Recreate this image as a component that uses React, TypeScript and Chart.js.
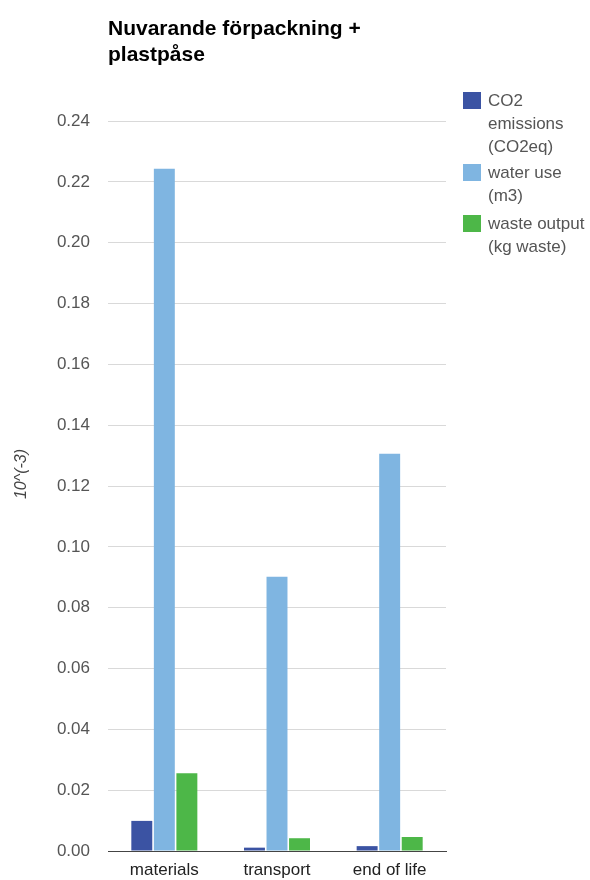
import React, { useEffect, useRef } from "react";
import { Chart, registerables } from "chart.js";

Chart.register(...registerables);

const titleLines = ["Nuvarande förpackning +", "plastpåse"];
const categories = ["materials", "transport", "end of life"];
const co2Values = [0.0099, 0.0011, 0.0016];
const waterValues = [0.2243, 0.0902, 0.1306];
const wasteValues = [0.0256, 0.0042, 0.0046];
const seriesNames = [["CO2", "emissions", "(CO2eq)"], ["water use", "(m3)"], ["waste output", "(kg waste)"]];
const seriesColors = ["#3b53a3", "#7fb5e1", "#4db748"];
const yTicks = [0, 0.02, 0.04, 0.06, 0.08, 0.1, 0.12, 0.14, 0.16, 0.18, 0.2, 0.22, 0.24];
const yAxisTitle = "10^(-3)";

const FONT = "Arial, 'Liberation Sans', sans-serif";

export default function App() {
  const ref = useRef<HTMLCanvasElement | null>(null);
  useEffect(() => {
    if (!ref.current) return;
    const values = [co2Values, waterValues, wasteValues];
    const chart = new Chart(ref.current, {
      type: "bar",
      data: {
        labels: categories,
        datasets: values.map((v, i) => ({
          label: seriesNames[i].join(" "),
          data: v,
          backgroundColor: seriesColors[i],
          borderWidth: 0,
          categoryPercentage: 0.6,
          barPercentage: 0.93,
        })),
      },
      options: {
        responsive: false,
        animation: false,
        layout: { padding: { left: 0, right: 144, top: 121, bottom: 0 } },
        plugins: {
          legend: { display: false },
          title: { display: false },
          tooltip: { enabled: false },
        },
        scales: {
          x: {
            grid: { display: false, drawTicks: false },
            border: { display: true, color: "#444", width: 1 },
            ticks: { color: "#222", font: { family: FONT, size: 17 }, padding: 9 },
            afterFit: (s: any) => { s.height = 29; },
          },
          y: {
            min: 0,
            max: 0.24,
            afterBuildTicks: (s: any) => { s.ticks = yTicks.map((v) => ({ value: v })); },
            grid: { color: "#d9d9d9", drawTicks: false },
            border: { display: false },
            ticks: {
              color: "#555",
              font: { family: FONT, size: 17 },
              padding: 18,
              callback: (v: any) => Number(v).toFixed(2),
            },
            afterFit: (s: any) => { s.width = 108; },
          },
        },
      },
    });
    return () => chart.destroy();
  }, []);

  return (
    <div style={{ position: "fixed", left: 0, top: 0, width: 590, height: 880, background: "#fff", fontFamily: FONT, overflow: "hidden" }}>
      <canvas ref={ref} width={590} height={880} style={{ position: "absolute", left: 0, top: 0 }} />
      <div style={{ position: "absolute", left: 108, top: 15, fontSize: 21, fontWeight: "bold", color: "#000", lineHeight: "26px", whiteSpace: "nowrap" }}>
        {titleLines.map((t, i) => (<div key={i}>{t}</div>))}
      </div>
      <div style={{ position: "absolute", left: 21 - 50, top: 474 - 10, width: 100, height: 20, lineHeight: "20px", textAlign: "center", transform: "rotate(-90deg)", fontSize: 16, fontStyle: "italic", color: "#444" }}>
        {yAxisTitle}
      </div>
      {seriesNames.map((lines, i) => (
        <div key={i} style={{ position: "absolute", left: 463, top: [89, 161, 212][i], display: "flex" }}>
          <div style={{ width: 18, height: 17, background: seriesColors[i], marginTop: 3, flex: "none" }} />
          <div style={{ marginLeft: 7, fontSize: 17, color: "#555", lineHeight: "23px" }}>
            {lines.map((l, j) => (<div key={j} style={{ whiteSpace: "nowrap" }}>{l}</div>))}
          </div>
        </div>
      ))}
    </div>
  );
}
